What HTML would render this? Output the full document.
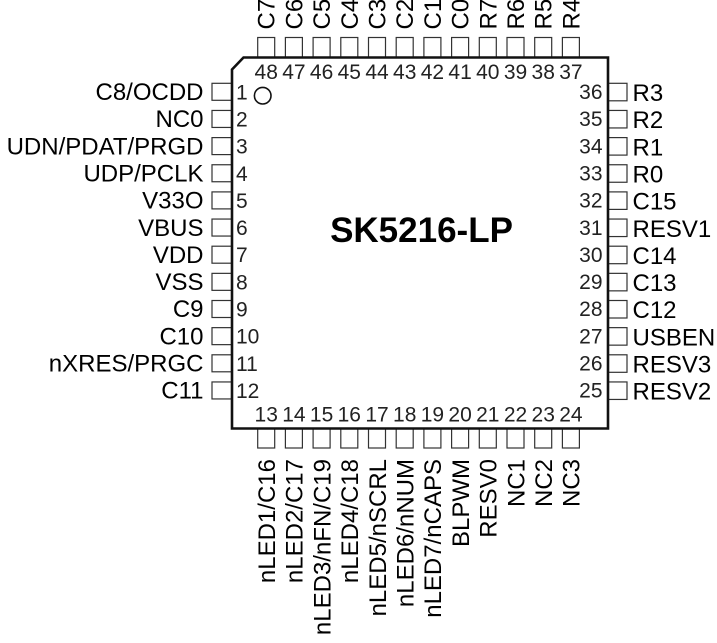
<!DOCTYPE html>
<html>
<head>
<meta charset="utf-8">
<style>
  html,body{margin:0;padding:0;background:#fff;}
  body{width:717px;height:643px;overflow:hidden;}
  svg{display:block;}
  .lbl{font-family:"Liberation Sans",Arial,sans-serif;font-size:24px;fill:#000;}
  .num{font-family:"Liberation Sans",Arial,sans-serif;font-size:21px;fill:#222;}
  .title{font-family:"Liberation Sans",Arial,sans-serif;font-size:35px;font-weight:bold;fill:#000;}
  .pad{fill:#fff;stroke:#333;stroke-width:1.2;}
</style>
</head>
<body>
<svg width="717" height="643" viewBox="0 0 717 643" xmlns="http://www.w3.org/2000/svg">
  <!-- Top pads -->
  <g class="pad">
    <rect x="257.7" y="37.5" width="17" height="20"/>
    <rect x="285.4" y="37.5" width="17" height="20"/>
    <rect x="313.1" y="37.5" width="17" height="20"/>
    <rect x="340.8" y="37.5" width="17" height="20"/>
    <rect x="368.5" y="37.5" width="17" height="20"/>
    <rect x="396.2" y="37.5" width="17" height="20"/>
    <rect x="423.9" y="37.5" width="17" height="20"/>
    <rect x="451.6" y="37.5" width="17" height="20"/>
    <rect x="479.3" y="37.5" width="17" height="20"/>
    <rect x="507.0" y="37.5" width="17" height="20"/>
    <rect x="534.7" y="37.5" width="17" height="20"/>
    <rect x="562.4" y="37.5" width="17" height="20"/>
  </g>
  <!-- Bottom pads -->
  <g class="pad">
    <rect x="257.7" y="428.5" width="17" height="19.5"/>
    <rect x="285.4" y="428.5" width="17" height="19.5"/>
    <rect x="313.1" y="428.5" width="17" height="19.5"/>
    <rect x="340.8" y="428.5" width="17" height="19.5"/>
    <rect x="368.5" y="428.5" width="17" height="19.5"/>
    <rect x="396.2" y="428.5" width="17" height="19.5"/>
    <rect x="423.9" y="428.5" width="17" height="19.5"/>
    <rect x="451.6" y="428.5" width="17" height="19.5"/>
    <rect x="479.3" y="428.5" width="17" height="19.5"/>
    <rect x="507.0" y="428.5" width="17" height="19.5"/>
    <rect x="534.7" y="428.5" width="17" height="19.5"/>
    <rect x="562.4" y="428.5" width="17" height="19.5"/>
  </g>
  <!-- Left pads -->
  <g class="pad">
    <rect x="212" y="83.3" width="20" height="17"/>
    <rect x="212" y="110.45" width="20" height="17"/>
    <rect x="212" y="137.6" width="20" height="17"/>
    <rect x="212" y="164.75" width="20" height="17"/>
    <rect x="212" y="191.9" width="20" height="17"/>
    <rect x="212" y="219.05" width="20" height="17"/>
    <rect x="212" y="246.2" width="20" height="17"/>
    <rect x="212" y="273.35" width="20" height="17"/>
    <rect x="212" y="300.5" width="20" height="17"/>
    <rect x="212" y="327.65" width="20" height="17"/>
    <rect x="212" y="354.8" width="20" height="17"/>
    <rect x="212" y="381.95" width="20" height="17"/>
  </g>
  <!-- Right pads -->
  <g class="pad">
    <rect x="608" y="83.3" width="19" height="17.5"/>
    <rect x="608" y="110.45" width="19" height="17.5"/>
    <rect x="608" y="137.6" width="19" height="17.5"/>
    <rect x="608" y="164.75" width="19" height="17.5"/>
    <rect x="608" y="191.9" width="19" height="17.5"/>
    <rect x="608" y="219.05" width="19" height="17.5"/>
    <rect x="608" y="246.2" width="19" height="17.5"/>
    <rect x="608" y="273.35" width="19" height="17.5"/>
    <rect x="608" y="300.5" width="19" height="17.5"/>
    <rect x="608" y="327.65" width="19" height="17.5"/>
    <rect x="608" y="354.8" width="19" height="17.5"/>
    <rect x="608" y="381.95" width="19" height="17.5"/>
  </g>

  <!-- Body -->
  <path d="M232,69.5 L243.5,57.5 L608,57.5 L608,428.5 L232,428.5 Z" fill="#fff" stroke="#111" stroke-width="2.6"/>
  <circle cx="262.7" cy="95.7" r="8.3" fill="none" stroke="#111" stroke-width="1.6"/>

  <!-- Title -->
  <text class="title" x="421.5" y="242" text-anchor="middle">SK5216-LP</text>

  <!-- Top pin numbers -->
  <g class="num" text-anchor="middle">
    <text x="266.2" y="79">48</text>
    <text x="293.9" y="79">47</text>
    <text x="321.6" y="79">46</text>
    <text x="349.3" y="79">45</text>
    <text x="377.0" y="79">44</text>
    <text x="404.7" y="79">43</text>
    <text x="432.4" y="79">42</text>
    <text x="460.1" y="79">41</text>
    <text x="487.8" y="79">40</text>
    <text x="515.5" y="79">39</text>
    <text x="543.2" y="79">38</text>
    <text x="570.9" y="79">37</text>
  </g>
  <!-- Bottom pin numbers -->
  <g class="num" text-anchor="middle">
    <text x="266.2" y="421.5">13</text>
    <text x="293.9" y="421.5">14</text>
    <text x="321.6" y="421.5">15</text>
    <text x="349.3" y="421.5">16</text>
    <text x="377.0" y="421.5">17</text>
    <text x="404.7" y="421.5">18</text>
    <text x="432.4" y="421.5">19</text>
    <text x="460.1" y="421.5">20</text>
    <text x="487.8" y="421.5">21</text>
    <text x="515.5" y="421.5">22</text>
    <text x="543.2" y="421.5">23</text>
    <text x="570.9" y="421.5">24</text>
  </g>
  <!-- Left pin numbers -->
  <g class="num" text-anchor="start">
    <text x="236" y="99.3">1</text>
    <text x="236" y="126.5">2</text>
    <text x="236" y="153.6">3</text>
    <text x="236" y="180.8">4</text>
    <text x="236" y="207.9">5</text>
    <text x="236" y="235.1">6</text>
    <text x="236" y="262.2">7</text>
    <text x="236" y="289.4">8</text>
    <text x="236" y="316.5">9</text>
    <text x="236" y="343.7">10</text>
    <text x="236" y="370.8">11</text>
    <text x="236" y="398">12</text>
  </g>
  <!-- Right pin numbers -->
  <g class="num" text-anchor="end">
    <text x="602.5" y="99">36</text>
    <text x="602.5" y="126.2">35</text>
    <text x="602.5" y="153.3">34</text>
    <text x="602.5" y="180.5">33</text>
    <text x="602.5" y="207.6">32</text>
    <text x="602.5" y="234.8">31</text>
    <text x="602.5" y="261.9">30</text>
    <text x="602.5" y="289.1">29</text>
    <text x="602.5" y="316.2">28</text>
    <text x="602.5" y="343.4">27</text>
    <text x="602.5" y="370.5">26</text>
    <text x="602.5" y="397.7">25</text>
  </g>

  <!-- Left labels -->
  <g class="lbl" text-anchor="end">
    <text x="203.5" y="100">C8/OCDD</text>
    <text x="203.5" y="127.2">NC0</text>
    <text x="203.5" y="154.3">UDN/PDAT/PRGD</text>
    <text x="203.5" y="181.5">UDP/PCLK</text>
    <text x="203.5" y="208.6">V33O</text>
    <text x="203.5" y="235.8">VBUS</text>
    <text x="203.5" y="262.9">VDD</text>
    <text x="203.5" y="290.1">VSS</text>
    <text x="203.5" y="317.2">C9</text>
    <text x="203.5" y="344.4">C10</text>
    <text x="203.5" y="371.5">nXRES/PRGC</text>
    <text x="203.5" y="398.7">C11</text>
  </g>
  <!-- Right labels -->
  <g class="lbl" text-anchor="start">
    <text x="632.5" y="101">R3</text>
    <text x="632.5" y="128.2">R2</text>
    <text x="632.5" y="155.3">R1</text>
    <text x="632.5" y="182.5">R0</text>
    <text x="632.5" y="209.6">C15</text>
    <text x="632.5" y="236.8">RESV1</text>
    <text x="632.5" y="263.9">C14</text>
    <text x="632.5" y="291.1">C13</text>
    <text x="632.5" y="318.2">C12</text>
    <text x="632.5" y="345.4">USBEN</text>
    <text x="632.5" y="372.5">RESV3</text>
    <text x="632.5" y="399.7">RESV2</text>
  </g>

  <!-- Top labels (rotated) -->
  <g class="lbl" text-anchor="start">
    <text transform="translate(274.7,29.5) rotate(-90)">C7</text>
    <text transform="translate(302.4,29.5) rotate(-90)">C6</text>
    <text transform="translate(330.1,29.5) rotate(-90)">C5</text>
    <text transform="translate(357.8,29.5) rotate(-90)">C4</text>
    <text transform="translate(385.5,29.5) rotate(-90)">C3</text>
    <text transform="translate(413.2,29.5) rotate(-90)">C2</text>
    <text transform="translate(440.9,29.5) rotate(-90)">C1</text>
    <text transform="translate(468.6,29.5) rotate(-90)">C0</text>
    <text transform="translate(496.3,29.5) rotate(-90)">R7</text>
    <text transform="translate(524.0,29.5) rotate(-90)">R6</text>
    <text transform="translate(551.7,29.5) rotate(-90)">R5</text>
    <text transform="translate(579.4,29.5) rotate(-90)">R4</text>
  </g>
  <!-- Bottom labels (rotated) -->
  <g class="lbl" text-anchor="end">
    <text transform="translate(275.0,459) rotate(-90)">nLED1/C16</text>
    <text transform="translate(302.7,459) rotate(-90)">nLED2/C17</text>
    <text transform="translate(330.4,459) rotate(-90)">nLED3/nFN/C19</text>
    <text transform="translate(358.1,459) rotate(-90)">nLED4/C18</text>
    <text transform="translate(385.8,459) rotate(-90)">nLED5/nSCRL</text>
    <text transform="translate(413.5,459) rotate(-90)">nLED6/nNUM</text>
    <text transform="translate(441.2,459) rotate(-90)">nLED7/nCAPS</text>
    <text transform="translate(468.9,459) rotate(-90)">BLPWM</text>
    <text transform="translate(496.6,459) rotate(-90)">RESV0</text>
    <text transform="translate(524.3,459) rotate(-90)">NC1</text>
    <text transform="translate(552.0,459) rotate(-90)">NC2</text>
    <text transform="translate(579.7,459) rotate(-90)">NC3</text>
  </g>
</svg>
</body>
</html>
